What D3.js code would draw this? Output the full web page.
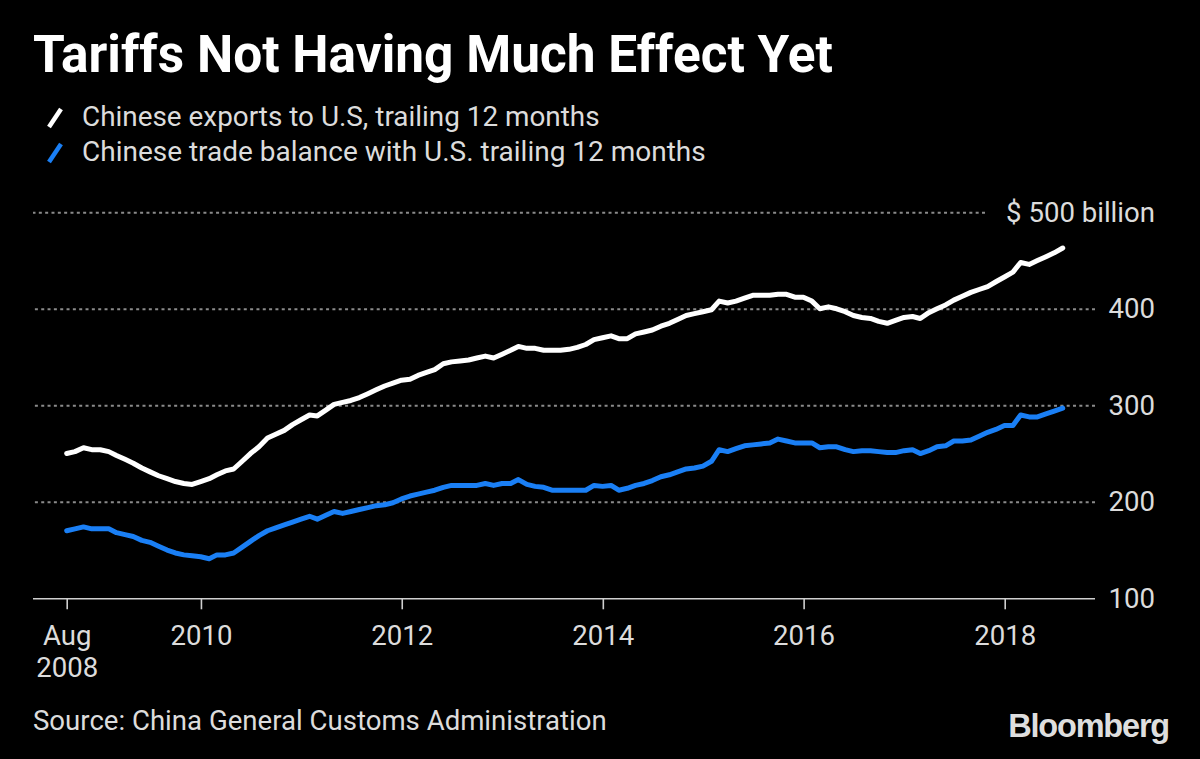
<!DOCTYPE html>
<html>
<head>
<meta charset="utf-8">
<script src="https://cdn.jsdelivr.net/npm/d3@7"></script>
<style>
html, body { margin: 0; padding: 0; background: #000; }
svg { display: block; }
</style>
</head>
<body>
<svg id="chart" width="1200" height="759"></svg>
<script>
// ---------- data ----------
const chartTitle = "Tariffs Not Having Much Effect Yet";
const seriesNames = [
  "Chinese exports to U.S, trailing 12 months",
  "Chinese trade balance with U.S. trailing 12 months"
];
const seriesColors = ["#ffffff", "#1a7ff5"];
const startMonth = "2008-08"; // first monthly observation (month-end), 120 months
const exportsValues = [
  250,252,256,254,254,252,248,244,240,235,
  231,227,224,221,219,218,221,224,228,232,
  234,242,250,257,266,270,274,280,285,290,
  289,295,301,303,305,308,312,316,320,323,
  326,327,331,334,337,343,345,346,347,349,
  351,349,353,357,361,359,359,357,357,357,
  358,360,363,368,370,372,369,369,374,376,
  378,382,385,389,393,395,397,399,408,406,
  408,411,414,414,414,415,415,412,412,408,
  400,402,400,397,393,391,390,387,385,388,
  391,392,390,396,400,404,409,413,417,420,
  423,428,433,438,448,446,450,454,458,463
];
const balanceValues = [
  170,172,174,172,172,172,168,166,164,160,
  158,154,150,147,145,144,143,141,145,145,
  147,153,159,165,170,173,176,179,182,185,
  182,186,190,188,190,192,194,196,197,199,
  203,206,208,210,212,215,217,217,217,217,
  219,217,219,219,223,218,216,215,212,212,
  212,212,212,217,216,217,212,214,217,219,
  222,226,228,231,234,235,237,242,254,252,
  255,258,259,260,261,265,263,261,261,261,
  256,257,257,254,252,253,253,252,251,251,
  253,254,250,253,257,258,263,263,264,268,
  272,275,279,279,290,288,288,291,294,297
];
const yTickValues = [100, 200, 300, 400, 500];
const yTopLabel = "$ 500 billion";
const xTickDates = ["2008-08-31", "2010-01-01", "2012-01-01", "2014-01-01", "2016-01-01", "2018-01-01"];
const xTickLabels = [["Aug", "2008"], ["2010"], ["2012"], ["2014"], ["2016"], ["2018"]];
const sourceText = "Source: China General Customs Administration";
const brandText = "Bloomberg";

// ---------- drawing ----------
function draw() {
  const svg = d3.select("#chart");
  svg.append("rect").attr("width", 1200).attr("height", 759).attr("fill", "#000");

  const FONT = "Roboto, 'Open Sans', 'DejaVu Sans', sans-serif";
  const TXT = "#dcdcdc";

  function fit(sel, width) {
    const w = sel.node().getComputedTextLength();
    const fs = parseFloat(sel.attr("font-size"));
    sel.attr("font-size", fs * width / w);
    return fs * width / w;
  }

  const parseM = d3.timeParse("%Y-%m");
  const parseD = d3.timeParse("%Y-%m-%d");
  const start = parseM(startMonth);
  const monthEnds = exportsValues.map((_, i) =>
    new Date(start.getFullYear(), start.getMonth() + i + 1, 0));

  const x = d3.scaleTime()
    .domain([parseD("2008-08-31"), parseD("2018-01-01")])
    .range([66.7, 1004.7]);
  const y = d3.scaleLinear().domain([100, 500]).range([598.3, 212.3]);

  const plotLeft = 33, plotRight = 1095;

  // title
  const t = svg.append("text").attr("x", 33).attr("y", 72)
    .attr("font-family", FONT).attr("font-weight", 700).attr("font-size", 42)
    .attr("fill", "#ffffff").text(chartTitle);
  fit(t, 800);

  // legend
  const legendY = [126, 161];
  const legendW = [518, 624];
  seriesNames.forEach((name, i) => {
    const by = legendY[i];
    svg.append("line")
      .attr("x1", 49).attr("y1", by + 1).attr("x2", 61).attr("y2", by - 17)
      .attr("stroke", seriesColors[i]).attr("stroke-width", 4.5);
    const lt = svg.append("text").attr("x", 82).attr("y", by)
      .attr("font-family", FONT).attr("font-size", 25).attr("fill", TXT).text(name);
    fit(lt, legendW[i]);
  });

  // source, to find a common body font size
  const src = svg.append("text").attr("x", 33).attr("y", 730)
    .attr("font-family", FONT).attr("font-size", 25).attr("fill", TXT).text(sourceText);
  const bodySize = fit(src, 574);

  // y axis with grid
  const yAxis = d3.axisRight(y)
    .tickValues(yTickValues)
    .tickSize(-(plotRight - plotLeft))
    .tickFormat(d => d === 500 ? yTopLabel : d);
  const gy = svg.append("g").attr("transform", `translate(${plotRight},0)`).call(yAxis);
  gy.select(".domain").remove();
  gy.selectAll(".tick line")
    .attr("stroke", d => d === 100 ? "#cfcfcf" : "#8a8a8a")
    .attr("stroke-width", d => d === 100 ? 1.6 : 2)
    .attr("stroke-dasharray", d => d === 100 ? null : "3,3.33")
    .attr("x1", d => d === 500 ? -110 : 0);
  gy.selectAll(".tick text")
    .attr("x", 60).attr("dy", null).attr("y", 9)
    .attr("text-anchor", "end")
    .attr("font-family", FONT).attr("font-size", bodySize).attr("fill", TXT);

  // x axis
  const xAxis = d3.axisBottom(x)
    .tickValues(xTickDates.map(parseD))
    .tickSize(11)
    .tickFormat("");
  const gx = svg.append("g").attr("transform", `translate(0,${y(100)})`).call(xAxis);
  gx.select(".domain").remove();
  gx.selectAll(".tick line").attr("stroke", "#cfcfcf").attr("stroke-width", 1.6);
  gx.selectAll(".tick").each(function (d, i) {
    const tx = d3.select(this).select("text")
      .attr("y", 0).attr("dy", null)
      .attr("font-family", FONT).attr("font-size", bodySize).attr("fill", TXT)
      .attr("text-anchor", "middle");
    xTickLabels[i].forEach((lab, j) => {
      tx.append("tspan").attr("x", 0).attr("y", 47 + j * 32).text(lab);
    });
  });

  // lines
  const line = d3.line().x(d => x(d.date)).y(d => y(d.value));
  const series = [exportsValues, balanceValues];
  series.forEach((vals, k) => {
    const data = vals.map((v, i) => ({ date: monthEnds[i], value: v }));
    svg.append("path").datum(data)
      .attr("fill", "none").attr("stroke", seriesColors[k])
      .attr("stroke-width", 5).attr("stroke-linejoin", "round").attr("stroke-linecap", "round")
      .attr("d", line);
  });

  // brand
  const b = svg.append("text").attr("x", 1169).attr("y", 737)
    .attr("text-anchor", "end")
    .attr("font-family", "'Liberation Sans', Arial, sans-serif").attr("font-weight", 700)
    .attr("font-size", 33).attr("letter-spacing", -1.2).attr("fill", "#dedede").text(brandText);
  fit(b, 161);
}

if (document.fonts && document.fonts.ready) {
  document.fonts.ready.then(draw);
} else {
  draw();
}
</script>
</body>
</html>
